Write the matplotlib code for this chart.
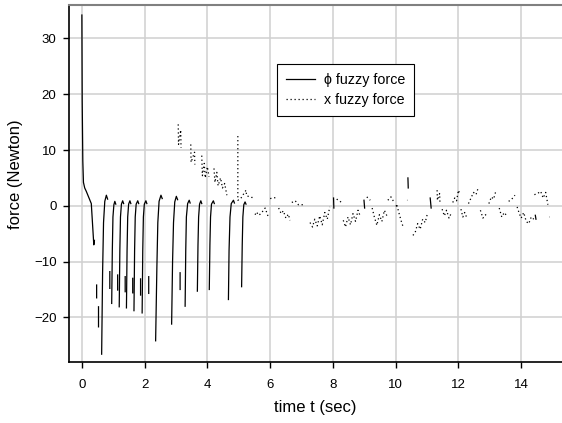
import numpy as np
import matplotlib.pyplot as plt

plt.rcParams['font.family'] = ['Liberation Sans', 'DejaVu Sans']

# phi fuzzy force: initial transient
phi_start_t = [0.0, 0.01, 0.03, 0.05, 0.09, 0.14, 0.22, 0.30, 0.33, 0.36, 0.38, 0.40]
phi_start_y = [34.2, 18.9, 8.0, 4.2, 3.2, 2.6, 1.5, 0.4, -2.5, -5.5, -7.0, -6.2]

# phi fuzzy force: recovery spikes (bottom -> hook at top)
phi_spike_t = [
    [0.63, 0.66, 0.69, 0.73, 0.78, 0.82],
    [0.95, 0.97, 0.99, 1.02, 1.05, 1.08],
    [1.19, 1.21, 1.23, 1.26, 1.30, 1.33],
    [1.42, 1.44, 1.46, 1.49, 1.53, 1.56],
    [1.66, 1.68, 1.70, 1.73, 1.78, 1.81],
    [1.92, 1.94, 1.96, 1.99, 2.04, 2.07],
    [2.35, 2.39, 2.42, 2.46, 2.52, 2.56],
    [2.86, 2.89, 2.92, 2.96, 3.01, 3.05],
    [3.29, 3.31, 3.33, 3.37, 3.42, 3.45],
    [3.68, 3.70, 3.72, 3.75, 3.79, 3.82],
    [4.06, 4.08, 4.10, 4.13, 4.19, 4.22],
    [4.67, 4.69, 4.72, 4.76, 4.83, 4.86],
    [5.09, 5.11, 5.13, 5.16, 5.20, 5.23],
]
phi_spike_y = [
    [-26.6, -12, -3, 0.8, 1.9, 1.2],
    [-17.5, -8, -2, 0.2, 0.8, 0.3],
    [-18.1, -8, -2, 0.3, 0.9, 0.4],
    [-18.3, -8, -2, 0.3, 0.9, 0.4],
    [-18.8, -8, -2, 0.3, 0.9, 0.4],
    [-19.2, -8, -2, 0.3, 0.9, 0.4],
    [-24.2, -11, -3, 0.8, 1.9, 1.3],
    [-21.2, -10, -3, 0.7, 1.7, 1.1],
    [-18.0, -8, -2, 0.4, 1.0, 0.5],
    [-15.3, -7, -2, 0.3, 0.9, 0.4],
    [-15.0, -7, -2, 0.3, 0.9, 0.4],
    [-16.8, -8, -2, 0.4, 1.0, 0.5],
    [-14.5, -7, -2, 0.2, 0.7, 0.3],
]

# phi fuzzy force: short separate pieces
phi_piece_t = [[0.47, 0.47], [0.53, 0.53], [0.89, 0.89], [1.14, 1.14], [1.38, 1.38],
               [1.62, 1.62], [1.87, 1.87], [2.13, 2.13], [3.13, 3.13],
               [8.02, 8.03], [8.99, 9.01], [10.39, 10.40], [11.10, 11.13], [14.45, 14.47]]
phi_piece_y = [[-14.2, -16.5], [-18.1, -21.7], [-11.8, -14.8], [-12.4, -15.1], [-12.7, -15.4],
               [-13.0, -15.6], [-13.1, -16.0], [-12.7, -15.7], [-12.0, -15.0],
               [1.4, -0.4], [1.0, -0.4], [5.0, 3.2], [1.4, -0.4], [-1.7, -2.4]]

# x fuzzy force (dotted) pieces
x_piece_t = [
    [3.07, 3.08, 3.15, 3.16],
    [3.47, 3.48, 3.59, 3.60],
    [3.82, 3.84, 3.90, 3.93, 4.00, 4.05],
    [4.21, 4.24, 4.30, 4.34, 4.42, 4.48, 4.55, 4.62],
    [4.97, 4.97, 5.05, 5.23, 5.25, 5.41, 5.46],
    [5.52, 5.56, 5.64, 5.72, 5.84, 5.94],
    [6.00, 6.20],
    [6.27, 6.35, 6.42, 6.50, 6.58, 6.63],
    [6.69, 6.80, 6.90, 7.06],
    [7.27, 7.35, 7.42, 7.50, 7.58, 7.66, 7.74, 7.82, 7.90],
    [8.12, 8.28],
    [8.33, 8.40, 8.48, 8.56, 8.64, 8.72, 8.80, 8.88],
    [9.08, 9.19],
    [9.25, 9.32, 9.40, 9.48, 9.56, 9.64, 9.72],
    [9.75, 9.85, 9.93],
    [10.00, 10.08],
    [10.04, 10.10, 10.18, 10.25],
    [10.36, 10.37],
    [10.55, 10.62, 10.70, 10.78, 10.86, 10.94, 11.02],
    [11.32, 11.33, 11.40, 11.41],
    [11.48, 11.55, 11.62, 11.70, 11.78],
    [11.82, 11.88, 11.94, 12.00, 12.05],
    [12.08, 12.14, 12.20, 12.27],
    [12.32, 12.40, 12.48, 12.56, 12.64],
    [12.70, 12.78, 12.86, 12.95],
    [12.97, 13.05, 13.12, 13.20],
    [13.30, 13.38, 13.46, 13.54],
    [13.60, 13.70, 13.80],
    [13.87, 13.94, 14.00, 14.08, 14.16, 14.24, 14.32, 14.40],
    [14.42, 14.52, 14.62, 14.70, 14.78, 14.85],
    [14.90, 14.91],
]
x_piece_y = [
    [14.6, 11.0, 13.6, 10.4],
    [11.0, 7.8, 9.6, 7.4],
    [9.0, 5.4, 7.6, 5.0, 7.0, 5.2],
    [6.7, 4.2, 6.0, 3.6, 5.0, 3.2, 4.0, 1.9],
    [12.5, 1.0, 1.2, 2.8, 1.8, 1.5, 1.5],
    [-1.6, -1.1, -1.7, -1.3, -0.4, -2.0],
    [1.3, 1.5],
    [-0.4, -1.4, -0.9, -2.2, -1.5, -2.6],
    [0.6, 0.9, 0.2, 0.2],
    [-3.0, -3.8, -2.4, -3.6, -1.8, -3.4, -1.2, -2.4, -0.2],
    [1.2, 0.6],
    [-2.6, -3.8, -2.0, -3.4, -1.4, -2.8, -0.8, -2.0],
    [1.6, 1.0],
    [-0.4, -2.0, -3.5, -1.6, -2.8, -0.8, -1.8],
    [1.0, 1.6, 0.8],
    [0.0, 0.0],
    [0.1, -1.2, -2.8, -4.0],
    [1.0, 1.0],
    [-5.3, -4.8, -3.2, -4.2, -2.4, -3.0, -1.2],
    [2.8, 1.0, 2.2, 0.7],
    [-0.6, -1.8, -0.8, -2.2, -1.2],
    [0.6, 1.4, 0.9, 2.8, 2.0],
    [-0.6, -2.0, -1.2, -2.2],
    [0.4, 1.4, 2.4, 2.0, 3.4],
    [-0.8, -2.2, -1.6, -2.0],
    [0.4, 1.6, 1.2, 2.8],
    [-0.4, -2.0, -1.2, -1.8],
    [0.8, 1.2, 1.9],
    [-0.2, -1.4, -2.2, -1.2, -2.8, -3.2, -2.0, -2.4],
    [2.0, 2.2, 2.6, 1.4, 2.4, 0.2],
    [-2.0, -2.0],
]


def join(ts, ys):
    # join pieces into one series, NaN between them
    t_all, y_all = [], []
    for t, y in zip(ts, ys):
        t_all += list(t) + [np.nan]
        y_all += list(y) + [np.nan]
    return t_all, y_all


phi_t, phi_y = join([phi_start_t] + phi_spike_t + phi_piece_t,
                    [phi_start_y] + phi_spike_y + phi_piece_y)
x_t, x_y = join(x_piece_t, x_piece_y)

fig = plt.figure(figsize=(5.62, 4.23), dpi=100)
ax = fig.add_axes([0.1228, 0.1442, 0.8772, 0.8440])

ax.plot(phi_t, phi_y, color='black', lw=0.9, label='ϕ fuzzy force')
ax.plot(x_t, x_y, color='black', lw=0.9, linestyle=(0, (1, 2.2)), label='x fuzzy force')

ax.set_xlim(-0.41, 15.3)
ax.set_ylim(-28, 36)
ax.set_xticks(range(0, 15, 2))
ax.set_yticks(range(-20, 31, 10))
ax.grid(True, color='#d0d0d0', lw=1.1)
ax.set_axisbelow(True)

ax.spines['right'].set_visible(False)
ax.spines['top'].set_color('#808080')
ax.spines['top'].set_linewidth(1.5)
ax.spines['left'].set_linewidth(1.2)
ax.spines['bottom'].set_linewidth(1.2)
ax.tick_params(direction='out', length=4, width=1, labelsize=9.5)
ax.tick_params(axis='x', pad=8)
ax.tick_params(axis='y', pad=5)

ax.set_xlabel('time t (sec)', fontsize=12)
ax.set_ylabel('force (Newton)', fontsize=12)
ax.xaxis.set_label_coords(0.5, -0.106)
ax.yaxis.set_label_coords(-0.093, 0.527)

leg = ax.legend(loc='upper left', bbox_to_anchor=(0.422, 0.835), borderaxespad=0,
                fontsize=10.3, handlelength=2.0, handletextpad=0.6, borderpad=0.65,
                labelspacing=0.4, fancybox=False, framealpha=1, edgecolor='black')
leg.get_frame().set_linewidth(0.8)

plt.savefig('out.png', dpi=100)
